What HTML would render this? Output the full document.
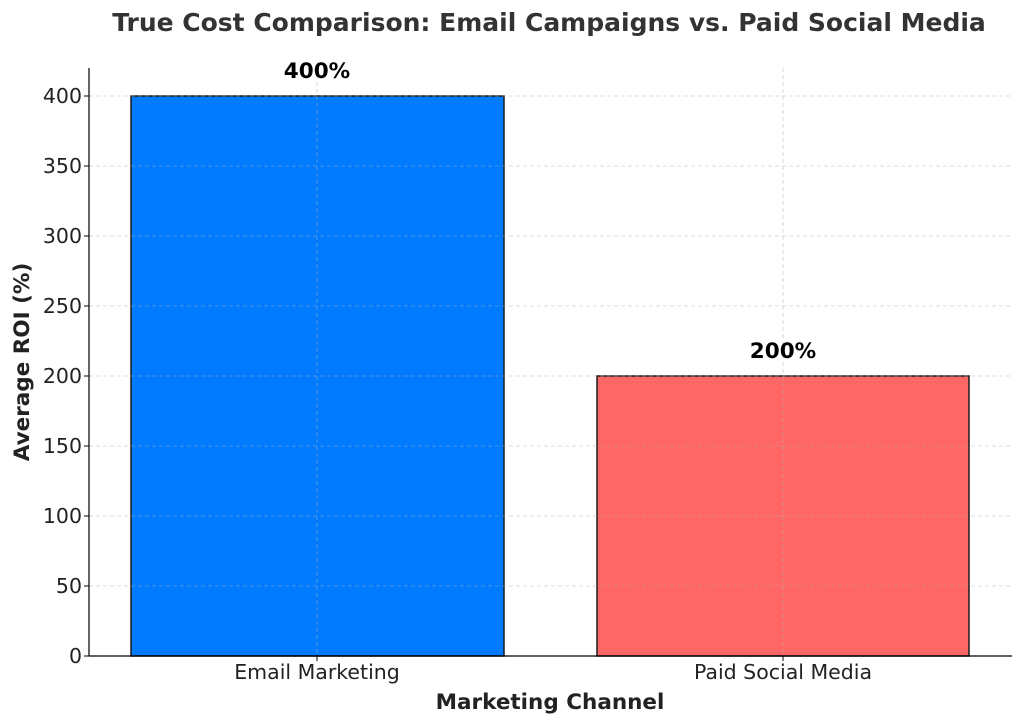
<!DOCTYPE html>
<html><head><meta charset="utf-8"><style>html,body{margin:0;padding:0;background:#fff}svg{display:block}</style></head>
<body>
<svg width="1024" height="725" xmlns="http://www.w3.org/2000/svg" font-family="DejaVu Sans, Liberation Sans, sans-serif">
<rect width="1024" height="725" fill="#fff"/>
<text x="549" y="31" text-anchor="middle" font-size="25" font-weight="bold" fill="#333">True Cost Comparison: Email Campaigns vs. Paid Social Media</text>
<rect x="131" y="96" width="373" height="560" fill="#007bff" stroke="#1a1a1a" stroke-width="1.5"/>
<rect x="597" y="376" width="372" height="280" fill="#ff6666" stroke="#1a1a1a" stroke-width="1.5"/>
<g stroke="#b0b0b0" stroke-opacity="0.6" stroke-dasharray="4,3" stroke-width="0.8">
<line x1="89" x2="1012" y1="586" y2="586"/><line x1="89" x2="1012" y1="516" y2="516"/>
<line x1="89" x2="1012" y1="446" y2="446"/><line x1="89" x2="1012" y1="376" y2="376"/>
<line x1="89" x2="1012" y1="306" y2="306"/><line x1="89" x2="1012" y1="236" y2="236"/>
<line x1="89" x2="1012" y1="166" y2="166"/><line x1="89" x2="1012" y1="96" y2="96"/>
<line x1="317" x2="317" y1="68" y2="656"/><line x1="783" x2="783" y1="68" y2="656"/>
</g>
<line x1="89" y1="68" x2="89" y2="656" stroke="#000" stroke-width="1.2"/>
<line x1="89" y1="656" x2="1012" y2="656" stroke="#000" stroke-width="1.2"/>
<g font-size="20.5" fill="#222" text-anchor="end">
<text x="82" y="663">0</text><text x="82" y="593">50</text><text x="82" y="523">100</text>
<text x="82" y="453">150</text><text x="82" y="383">200</text><text x="82" y="313">250</text>
<text x="82" y="243">300</text><text x="82" y="173">350</text><text x="82" y="103">400</text>
</g>
<g stroke="#000"><line x1="84" x2="89" y1="656" y2="656"/><line x1="84" x2="89" y1="586" y2="586"/><line x1="84" x2="89" y1="516" y2="516"/><line x1="84" x2="89" y1="446" y2="446"/><line x1="84" x2="89" y1="376" y2="376"/><line x1="84" x2="89" y1="306" y2="306"/><line x1="84" x2="89" y1="236" y2="236"/><line x1="84" x2="89" y1="166" y2="166"/><line x1="84" x2="89" y1="96" y2="96"/>
<line x1="317" x2="317" y1="656" y2="661"/><line x1="783" x2="783" y1="656" y2="661"/></g>
<g font-size="20.5" fill="#222" text-anchor="middle">
<text x="317" y="679">Email Marketing</text><text x="783" y="679">Paid Social Media</text>
</g>
<text x="550" y="709" text-anchor="middle" font-size="21.5" font-weight="bold" fill="#222">Marketing Channel</text>
<text transform="translate(29,362) rotate(-90)" text-anchor="middle" font-size="21.5" font-weight="bold" fill="#222">Average ROI (%)</text>
<text x="317" y="78" text-anchor="middle" font-size="21.5" font-weight="bold" fill="#000">400%</text>
<text x="783" y="358" text-anchor="middle" font-size="21.5" font-weight="bold" fill="#000">200%</text>
</svg>
</body></html>
